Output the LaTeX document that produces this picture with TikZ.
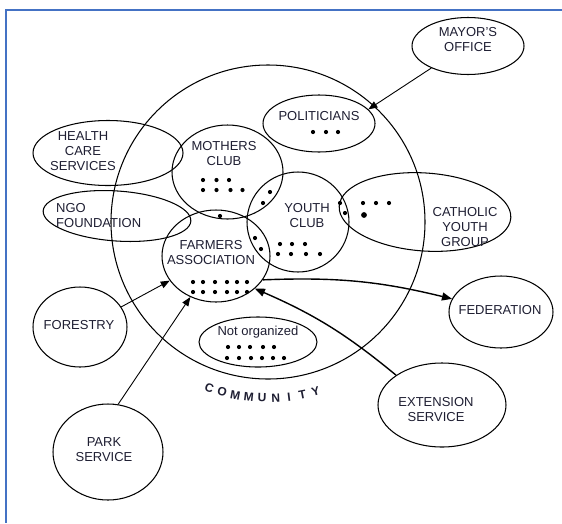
\documentclass[tikz,border=0pt]{standalone}
\usepackage{fontspec}
\setmainfont{Liberation Sans}
\usetikzlibrary{shapes.geometric,arrows.meta}
\definecolor{ink}{HTML}{1E1E32}
\definecolor{frameblue}{HTML}{4472C4}
\begin{document}
\begin{tikzpicture}[x=1pt,y=-1pt,
  blob/.style={draw=black,line width=1.05pt,ellipse,inner sep=0pt},
  lbl/.style={text=ink,font=\fontsize{13}{15}\selectfont,align=center,inner sep=0pt},
  arcletter/.style={text=ink,font=\bfseries\fontsize{12}{14}\selectfont,inner sep=0pt},
  thinarrow/.style={line width=0.9pt,-{Triangle[length=9pt,width=7pt]}},
  thickarrow/.style={line width=1.4pt,-{Triangle[length=10pt,width=8pt]}}]
\useasboundingbox (0,0) rectangle (562,523);
\draw[frameblue,line width=2pt] (562,10) -- (6,10) -- (6,523);

% community circle and its label, one letter at a time along the rim
\node[blob,circle,minimum size=314pt] (community) at (268,222) {};
\foreach \ch [count=\i] in {C,O,M,M,U,N,I,T,Y} {
  \pgfmathsetmacro\ang{-109.5+(\i-1)*4.4}
  \node[arcletter,rotate=\ang+90] (comm\i) at ([shift={(\ang:176pt)}]268,222) {\ch};
}

% groups
\node[blob,minimum width=112pt,minimum height=57pt] (mayor) at (468,46) {};
\node[blob,minimum width=112pt,minimum height=57pt] (politicians) at (319,123.5) {};
\node[blob,minimum width=150pt,minimum height=65pt] (health) at (108,153) {};
\node[blob,minimum width=148pt,minimum height=50pt,rotate=-4] (ngo) at (117,216) {};
\node[blob,minimum width=111pt,minimum height=94pt] (mothers) at (227.5,172) {};
\node[blob,minimum width=102pt,minimum height=100pt] (youth) at (298,222) {};
\node[blob,minimum width=172pt,minimum height=78pt,rotate=-4] (catholic) at (425,212) {};
\node[blob,minimum width=108pt,minimum height=92pt] (farmers) at (216,256) {};
\node[blob,minimum width=118pt,minimum height=50pt] (unorganized) at (258,342) {};
\node[blob,minimum width=94pt,minimum height=80pt] (forestry) at (80,327) {};
\node[blob,minimum width=110pt,minimum height=96pt] (park) at (108,452) {};
\node[blob,minimum width=104pt,minimum height=72pt] (federation) at (501,312) {};
\node[blob,minimum width=128pt,minimum height=84pt] (extension) at (442,405) {};

% labels
\node[lbl] (mayorT) at (468,40) {MAYOR'S\\OFFICE};
\node[lbl] (politiciansT) at (319,116) {POLITICIANS};
\node[lbl] (healthT) at (83,151) {HEALTH\\CARE\\SERVICES};
\node[lbl,align=left,anchor=west] (ngoT) at (56,216) {NGO\\FOUNDATION};
\node[lbl] (mothersT) at (224,154) {MOTHERS\\CLUB};
\node[lbl] (youthT) at (307,215.5) {YOUTH\\CLUB};
\node[lbl] (catholicT) at (465,227) {CATHOLIC\\YOUTH\\GROUP};
\node[lbl] (farmersT) at (211,253) {FARMERS\\ASSOCIATION};
\node[lbl] (unorganizedT) at (258,332) {Not organized};
\node[lbl] (forestryT) at (79,325) {FORESTRY};
\node[lbl] (parkT) at (104,450) {PARK\\SERVICE};
\node[lbl] (federationT) at (500,310) {FEDERATION};
\node[lbl] (extensionT) at (436,409.5) {EXTENSION\\SERVICE};

% members
\foreach \p in {(313,132),(326,132),(338,132),
  (203,180),(216.5,180),(229,180),(203,190),(216.5,190),(230.5,190),(242.5,190),
  (220,216),(270,192),(263,203),(255,238),(261,249),
  (280,244),(292,244),(305,244),(278,254),(291,254),(306,254),(320,254),
  (340,203),(345,213),(363,203),(376,203),(389,203),
  (193,282),(203,282),(215,282),(227,282),(237,282),(247,282),
  (193,292),(203,292),(215,292),(227,292),(237,292),(247,292),
  (228,347),(239,347),(250,347),(263,347),(274,347),
  (227,358),(239,358),(251,358),(262,358),(273,358),(284,358)}
  \fill \p circle[radius=2.1pt];
\fill (364,215) circle[radius=2.9pt];

% links
\draw[thinarrow] (mayor.211) -- (politicians.16);
\draw[thinarrow] (forestry.26) -- (farmers.208);
\draw[thinarrow] (park.78) -- (farmers.238);
\draw[thickarrow] (farmers.-27) to[bend left=8] (federation.165);
\draw[thickarrow] (extension.147) to[bend right=8] (farmers.-40);
\end{tikzpicture}
\end{document}
